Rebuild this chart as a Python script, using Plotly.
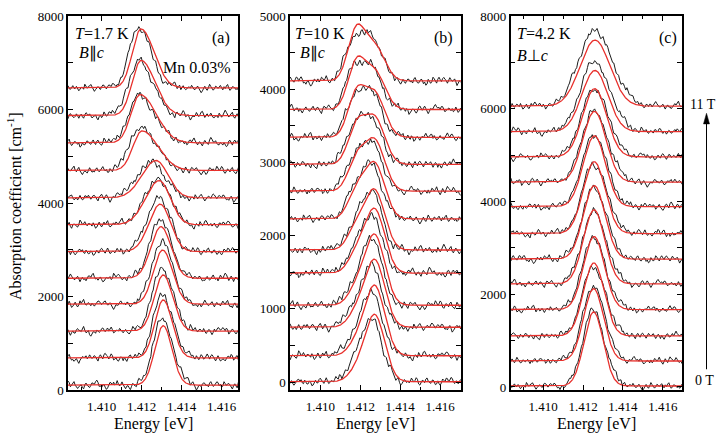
import numpy as np
import plotly.graph_objects as go

# ---------------- data ----------------
# energy grid of the measured spectra and of the fits [eV]
energy_meas = np.round(np.arange(1.4082, 1.41705, 0.00006), 6)
energy_fit = np.round(np.arange(1.4082, 1.41705, 0.00002), 6)

# residual pattern of the measured curves (hand read, relative units)
residual_pattern = [0.3, -0.2, 0.5, 0.1, -0.6, -0.1, 0.4, 0.8, 0.2, -0.3, -0.7, -0.2, 0.3, 0.6,
                    -0.1, -0.5, 0.2, 0.7, 0.1, -0.4, -0.9, -0.3, 0.4, 0.2, -0.2, 0.5, 0.9, 0.3,
                    -0.3, -0.1, -0.6, 0.1, 0.5, -0.2, -0.8, -0.4, 0.2, 0.6, 0.4, -0.1, 0.3, -0.5,
                    -0.2, 0.7, 0.2, -0.3, 0.1, 0.8, 0.4, -0.4, -0.7, 0.0, 0.5, -0.1, -0.6, 0.3,
                    0.6, 0.1, -0.2, -0.5, 0.2, 0.9, 0.4, -0.3, -0.1, 0.3, -0.4, -0.8, -0.2, 0.4,
                    0.1, -0.3, 0.6, 0.2, -0.5, -0.2, 0.5, 0.7, -0.1, -0.6, 0.0, 0.4, -0.3, 0.2,
                    0.8, 0.1, -0.4, -0.2, 0.3]

# Panel (a)  T=1.7 K, B||c   (spectra listed from 0 T at the bottom upwards)
a_offset = [110, 690, 1265, 1840, 2395, 2965, 3540, 4115, 4700, 5290, 5875, 6465]
a_fit_center = [1.41308, 1.41308, 1.41308, 1.41305, 1.41297, 1.41293, 1.41288, 1.41272,
                1.41202, 1.41192, 1.41197, 1.41197]
a_fit_amp = [1270, 1241, 1200, 1158, 1103, 1014, 945, 800, 848, 1034, 1179, 1262]
a_fit_wlo = [0.00042, 0.00042, 0.00045, 0.00046, 0.0005, 0.00056, 0.00068, 0.0007,
             0.00045, 0.00045, 0.00044, 0.00043]
a_fit_whi = [0.00044, 0.00046, 0.00048, 0.0005, 0.0005, 0.00052, 0.00055, 0.0006,
             0.0008, 0.0008, 0.0007, 0.00065]
a_meas_center = [1.41302, 1.41302, 1.41302, 1.413, 1.41293, 1.41288, 1.41285, 1.41247,
                 1.41188, 1.41185, 1.41185, 1.41185]
a_meas_amp = [1393, 1331, 1338, 1330, 1241, 1151, 965, 760, 931, 1020, 1158, 1283]
a_meas_wlo = [0.00045, 0.00046, 0.00048, 0.0005, 0.00054, 0.0006, 0.0007, 0.0007,
              0.0005, 0.0005, 0.0005, 0.00048]
a_meas_whi = [0.00055, 0.00055, 0.00056, 0.00056, 0.00056, 0.00056, 0.00058, 0.00068,
              0.0008, 0.0008, 0.0007, 0.00062]

# Panel (b)  T=10 K, B||c  (two-component fits)
b_offset = [5, 360, 750, 1050, 1490, 1805, 2230, 2610, 2975, 3345, 3725, 4115]
b_fit_c1, b_fit_c2 = 1.4118, 1.41272
b_fit_w1, b_fit_w2 = 0.00042, 0.0005
b_fit_amp1 = [120, 150, 170, 200, 230, 290, 350, 407, 496, 571, 614, 675]
b_fit_amp2 = [911, 952, 915, 956, 865, 807, 748, 685, 627, 594, 511, 470]
b_meas_c1, b_meas_c2 = 1.41167, 1.41258
b_meas_w1, b_meas_w2 = 0.00045, 0.0005
b_meas_amp1 = [180, 200, 200, 220, 240, 270, 330, 380, 450, 463, 500, 510]
b_meas_amp2 = [850, 850, 820, 890, 780, 770, 710, 640, 600, 583, 545, 556]

# Panel (c)  T=4.2 K, B perp c
c_offset = [20, 560, 1100, 1670, 2225, 2760, 3310, 3890, 4420, 4965, 5510, 6060]
c_fit_center = [1.41253, 1.41253, 1.41254, 1.41255, 1.41255, 1.41256, 1.41256, 1.41257,
                1.41257, 1.41258, 1.41259, 1.4126]
c_fit_amp = [1597, 1562, 1576, 1576, 1597, 1583, 1549, 1528, 1528, 1472, 1319, 1424]
c_fit_width = [0.00048, 0.0005, 0.00052, 0.00052, 0.00053, 0.00054, 0.00055, 0.00056,
               0.00058, 0.0006, 0.00065, 0.00075]
c_meas_center = [1.41249, 1.41249, 1.4125, 1.4125, 1.41251, 1.41251, 1.41252, 1.41252,
                 1.41253, 1.41254, 1.41255, 1.41256]
c_meas_amp = [1632, 1618, 1493, 1542, 1563, 1528, 1514, 1528, 1528, 1472, 1507, 1618]

x_tick_vals = [1.410, 1.412, 1.414, 1.416]
a_y_ticks = [0, 2000, 4000, 6000, 8000]
b_y_ticks = [0, 1000, 2000, 3000, 4000, 5000]
c_y_ticks = [0, 2000, 4000, 6000, 8000]

# ---------------- helpers ----------------
W, H = 719, 442
RED = "#e8302c"
BLK = "#1c1c1c"
FONT = "Liberation Serif"


def px(x):
    return x / W


def py(y):
    return 1 - y / H


def asym_peak(e, c, wlo, whi):
    w = np.where(e < c, wlo, whi)
    return np.exp(-0.5 * ((e - c) / w) ** 2)


def residual(k, scale):
    n = len(residual_pattern)
    fast = np.array([residual_pattern[(j + 23 * k) % n] for j in range(len(energy_meas))])
    slow = np.array([residual_pattern[(j // 4 + 11 * k + 7) % n] for j in range(len(energy_meas))])
    return (0.75 * fast + 0.55 * slow) * scale


fig = go.Figure()

# ---- panel (a)
for k in range(len(a_offset)):
    meas = a_offset[k] + a_meas_amp[k] * asym_peak(energy_meas, a_meas_center[k], a_meas_wlo[k], a_meas_whi[k]) + residual(k, 105)
    fit = a_offset[k] + a_fit_amp[k] * asym_peak(energy_fit, a_fit_center[k], a_fit_wlo[k], a_fit_whi[k])
    fig.add_trace(go.Scatter(x=energy_meas, y=meas, mode="lines", line=dict(color=BLK, width=1), xaxis="x", yaxis="y", showlegend=False))
    fig.add_trace(go.Scatter(x=energy_fit, y=fit, mode="lines", line=dict(color=RED, width=1.3), xaxis="x", yaxis="y", showlegend=False))

# ---- panel (b)
for k in range(len(b_offset)):
    meas = (b_offset[k] + b_meas_amp1[k] * asym_peak(energy_meas, b_meas_c1, b_meas_w1, b_meas_w1)
            + b_meas_amp2[k] * asym_peak(energy_meas, b_meas_c2, b_meas_w2, b_meas_w2) + residual(k + 5, 72))
    fit = (b_offset[k] + b_fit_amp1[k] * asym_peak(energy_fit, b_fit_c1, b_fit_w1, b_fit_w1)
           + b_fit_amp2[k] * asym_peak(energy_fit, b_fit_c2, b_fit_w2, b_fit_w2))
    fig.add_trace(go.Scatter(x=energy_meas, y=meas, mode="lines", line=dict(color=BLK, width=1), xaxis="x2", yaxis="y2", showlegend=False))
    fig.add_trace(go.Scatter(x=energy_fit, y=fit, mode="lines", line=dict(color=RED, width=1.3), xaxis="x2", yaxis="y2", showlegend=False))

# ---- panel (c)
for k in range(len(c_offset)):
    meas = c_offset[k] + c_meas_amp[k] * asym_peak(energy_meas, c_meas_center[k], c_fit_width[k] * 1.05, c_fit_width[k] * 1.2) + residual(k + 11, 100)
    fit = c_offset[k] + c_fit_amp[k] * asym_peak(energy_fit, c_fit_center[k], c_fit_width[k], c_fit_width[k])
    fig.add_trace(go.Scatter(x=energy_meas, y=meas, mode="lines", line=dict(color=BLK, width=1), xaxis="x3", yaxis="y3", showlegend=False))
    fig.add_trace(go.Scatter(x=energy_fit, y=fit, mode="lines", line=dict(color=RED, width=1.3), xaxis="x3", yaxis="y3", showlegend=False))

ydom = [py(396.7), py(9.5)]
common_ax = dict(showgrid=False, zeroline=False, showline=True, linecolor="black", linewidth=1.5,
                 mirror="allticks", ticks="inside", ticklen=5, tickwidth=1.2, tickcolor="black",
                 tickfont=dict(family=FONT, size=13, color="black"))

xcommon = dict(common_ax, tickvals=x_tick_vals, tickformat=".3f", ticklabelstandoff=3,
               minor=dict(dtick=0.001, tick0=1.410, ticks="inside", ticklen=3, tickcolor="black", tickwidth=1))

fig.update_layout(
    width=W, height=H, margin=dict(l=0, r=0, t=0, b=0),
    paper_bgcolor="white", plot_bgcolor="white",
    font=dict(family=FONT, color="black"),
    xaxis=dict(xcommon, domain=[px(68), px(238)], range=[1.40832, 1.41682], anchor="y"),
    yaxis=dict(common_ax, domain=ydom, range=[0, 8000], tickvals=a_y_ticks, anchor="x",
               minor=dict(dtick=1000, ticks="inside", ticklen=5, tickcolor="black", tickwidth=1)),
    xaxis2=dict(xcommon, domain=[px(290), px(461)], range=[1.408485, 1.41704], anchor="y2"),
    yaxis2=dict(common_ax, domain=ydom, range=[-111, 5000], tickvals=b_y_ticks, anchor="x2",
                minor=dict(dtick=500, ticks="inside", ticklen=5, tickcolor="black", tickwidth=1)),
    xaxis3=dict(xcommon, domain=[px(510.7), px(682)], range=[1.40837, 1.41696], anchor="y3"),
    yaxis3=dict(common_ax, domain=ydom, range=[-71, 8000], tickvals=c_y_ticks, anchor="x3",
                minor=dict(dtick=1000, ticks="inside", ticklen=5, tickcolor="black", tickwidth=1)),
)

ann = []


def txt(x, y, s, size=16, xanchor="center", **kw):
    ann.append(dict(x=px(x), y=py(y), xref="paper", yref="paper", text=s, showarrow=False,
                    xanchor=xanchor, yanchor="middle", font=dict(family=FONT, size=size, color="black"), **kw))


# axis titles
for xc in (153, 375.5, 596):
    txt(xc, 432, "Energy [eV]", size=16)
txt(14, 206, "Absorption coefficient [cm<sup>-1</sup>]", size=16, textangle=-90)

# panel labels
txt(73, 27, "<i>T</i>=1.7 K", xanchor="left")
txt(77, 48, "<i>B</i>∥<i>c</i>", xanchor="left")
txt(221, 32, "(a)")
txt(197, 63, "Mn 0.03%")

txt(293, 27, "<i>T</i>=10 K", xanchor="left")
txt(298, 48, "<i>B</i>∥<i>c</i>", xanchor="left")
txt(443, 32, "(b)")

txt(515, 27, "<i>T</i>=4.2 K", xanchor="left")
txt(515, 50, "<i>B</i>⊥<i>c</i>", xanchor="left")
txt(668, 32, "(c)")

txt(703, 101, "11 T", size=14)
txt(704, 387, "0 T", size=14)

fig.update_layout(annotations=ann)

# field arrow (shaft + head)
fig.add_shape(type="line", xref="paper", yref="paper", x0=px(706.5), x1=px(706.5), y0=py(375), y1=py(118),
              line=dict(color="black", width=1))
fig.add_shape(type="path", xref="paper", yref="paper",
              path=f"M {px(703.5)},{py(121)} L {px(706.5)},{py(110)} L {px(709.5)},{py(121)} Z",
              fillcolor="black", line=dict(color="black", width=0.5))

fig.write_html("out.html")
